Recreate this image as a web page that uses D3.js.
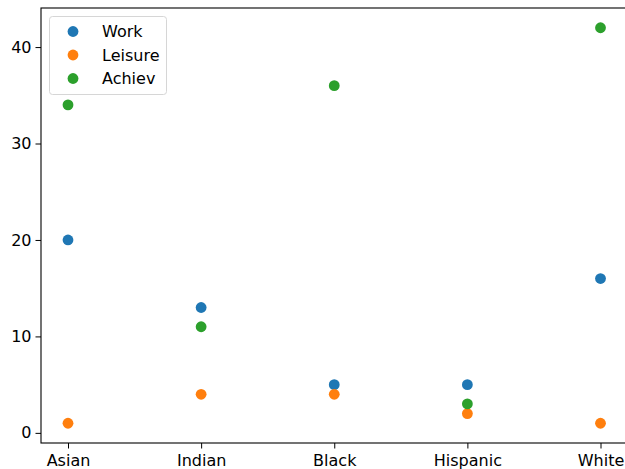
<!DOCTYPE html>
<html><head><meta charset="utf-8">
<script src="https://cdn.jsdelivr.net/npm/d3@7"></script>
<style>body{margin:0;background:#fff;} svg{display:block;}</style>
</head><body>
<svg id="chart" width="625" height="469"></svg>
<script>
const categories = ["Asian", "Indian", "Black", "Hispanic", "White"];
const work = [20, 13, 5, 5, 16];
const leisure = [1, 4, 4, 2, 1];
const achiev = [34, 11, 36, 3, 42];
const seriesNames = ["Work", "Leisure", "Achiev"];
const colors = ["#1f77b4", "#ff7f0e", "#2ca02c"];
const yTicks = [0, 10, 20, 30, 40];

(function () {
const series = [work, leisure, achiev];
const svg = d3.select("#chart");
const mLeft = 41, mTop = 8, mRight = 631, mBottom = 443;
const font = "DejaVu Sans, sans-serif";

const x = d3.scalePoint().domain(categories).range([68, 600.5]);
const y = d3.scaleLinear().domain([-1.05, 44.05]).range([mBottom, mTop]);

series.forEach((vals, si) => {
  svg.append("g").selectAll("circle").data(vals).join("circle")
    .attr("cx", (d, i) => x(categories[i]))
    .attr("cy", d => y(d))
    .attr("r", 5.4)
    .attr("fill", colors[si]);
});

const yAxis = d3.axisLeft(y).tickValues(yTicks).tickSize(5.5).tickPadding(4).tickFormat(d3.format("d"));
const gy = svg.append("g").attr("transform", `translate(${mLeft},0)`).call(yAxis);
gy.select(".domain").remove();
gy.selectAll("text").attr("font-family", font).attr("font-size", 16).attr("fill", "#000");
gy.selectAll("line").attr("stroke", "#000").attr("stroke-width", 1);

const xAxis = d3.axisBottom(x).tickSize(5.5).tickPadding(6.5);
const gx = svg.append("g").attr("transform", `translate(0,${mBottom})`).call(xAxis);
gx.select(".domain").remove();
gx.selectAll("text").attr("font-family", font).attr("font-size", 16).attr("fill", "#000");
gx.selectAll("line").attr("stroke", "#000").attr("stroke-width", 1);

svg.append("rect").attr("x", mLeft).attr("y", mTop).attr("width", mRight - mLeft).attr("height", mBottom - mTop)
  .attr("fill", "none").attr("stroke", "#000").attr("stroke-width", 1.1);

const lg = svg.append("g");
lg.append("rect").attr("x", 49.5).attr("y", 16.5).attr("width", 117).attr("height", 78).attr("rx", 3)
  .attr("fill", "#fff").attr("fill-opacity", 0.8).attr("stroke", "#d6d6d6").attr("stroke-width", 1);
seriesNames.forEach((name, i) => {
  const cy = 31.5 + i * 23.5;
  lg.append("circle").attr("cx", 73).attr("cy", cy).attr("r", 5.4).attr("fill", colors[i]);
  lg.append("text").attr("x", 102).attr("y", cy).attr("dy", "0.35em")
    .attr("font-family", font).attr("font-size", 16).attr("fill", "#000").text(name);
});
})();
</script>
</body></html>
